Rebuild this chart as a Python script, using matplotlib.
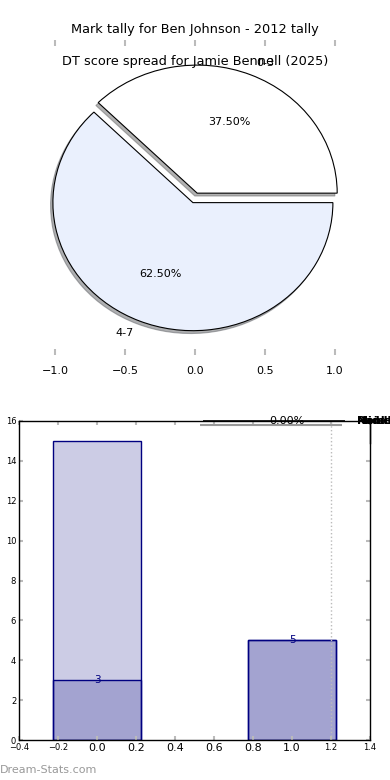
import matplotlib
matplotlib.use("Agg")
import matplotlib.pyplot as plt

# pie data
pie_labels = ["0-3", "4-7"]
pie_values = [3, 5]
pie_colors = ["white", "#eaf0fd"]
pie_explode = [0.08, 0.0]

# bar data
bar_x = [0, 1]
bar_back = [15, 5]
bar_front = [3, 5]

# squashed leftovers at the top right of the bar panel
stub_pct = "0.00%"
stub_labels = ["Middle", "Rankle", "Noise"]

fig = plt.figure(figsize=(3.9, 7.8), dpi=100)

fig.text(0.5, 1 - 30 / 780, "Mark tally for Ben Johnson - 2012 tally",
         ha="center", va="center", fontsize=9.3)

# --- pie panel ---
ax1 = fig.add_axes([20 / 390, 1 - 355 / 780, 350 / 390, 315 / 780])
ax1.pie(pie_values, labels=pie_labels, explode=pie_explode, colors=pie_colors,
        autopct="%.2f%%", startangle=0, frame=True, center=(-0.015, 0),
        shadow={"ox": -0.012, "oy": -0.016, "shade": 0.6},
        wedgeprops=dict(edgecolor="black", linewidth=0.8),
        textprops=dict(fontsize=8))
ax1.set_aspect("auto")
ax1.set_xlim(-1.25, 1.25)
ax1.set_ylim(-1.19, 1.27)
for s in ax1.spines.values():
    s.set_visible(False)
ax1.set_xticks([-1.0, -0.5, 0.0, 0.5, 1.0])
ax1.set_yticks([])
ax1.tick_params(axis="x", top=True, bottom=True, direction="in", color="#bbbbbb",
                labelsize=8, length=4, width=1.5, pad=8)

fig.text(0.5, 1 - 61 / 780, "DT score spread for Jamie Bennell (2025)",
         ha="center", va="center", fontsize=9.3)

# --- bar panel ---
ax2 = fig.add_axes([19 / 390, 1 - 740 / 780, 351 / 390, 319 / 780])
ax2.bar(bar_x, bar_back, width=0.45, facecolor=(0, 0, 0.5, 0.2), edgecolor="navy", linewidth=1)
ax2.bar(bar_x, bar_front, width=0.45, facecolor=(0, 0, 0.5, 0.2), edgecolor="navy", linewidth=1)
for x, v in zip(bar_x, bar_front):
    ax2.text(x, v, str(v), ha="center", va="center", color="navy", fontsize=7.5)
ax2.axvline(1.2, color="#bbbbbb", linestyle=":", linewidth=1)
ax2.set_xlim(-0.4, 1.4)
ax2.set_ylim(0, 16)
xt = [-0.4, -0.2, 0.0, 0.2, 0.4, 0.6, 0.8, 1.0, 1.2, 1.4]
ax2.set_xticks(xt)
ax2.set_xticklabels([f"{v:.1f}".replace("-", "\u2212") for v in xt])
for v, lab in zip(xt, ax2.get_xticklabels()):
    lab.set_fontsize(8 if 0 <= v <= 1.0 else 6)
ax2.set_yticks(range(0, 17, 2))
ax2.tick_params(axis="y", labelsize=6)
ax2.tick_params(top=True, right=True, direction="in", color="#bbbbbb", length=3, width=1.5, pad=2)
for s in ax2.spines.values():
    s.set_color("black")
    s.set_linewidth(1)

# flattened stub at the top edge
ax3 = fig.add_axes([195 / 390, 1 - 427 / 780, 150 / 390, 8 / 780])
ax3.set_xlim(0, 150)
ax3.set_ylim(0, 8)
ax3.axis("off")
ax3.plot([5, 147], [2, 2], color="#999999", linewidth=1.5, solid_capstyle="butt")
ax3.plot([8, 150], [6, 6], color="black", linewidth=1.2, solid_capstyle="butt")
ax3.text(92, 6, stub_pct, ha="center", va="center", fontsize=8, clip_on=False)
for lab in stub_labels:
    ax3.text(162, 6, lab, ha="left", va="center", fontsize=8, fontweight="bold", clip_on=False)
ax3.plot([175, 175], [6, -16], color="black", linewidth=1, clip_on=False)

fig.text(0.0, 1 - 770 / 780, "Dream-Stats.com", ha="left", va="center",
         fontsize=8, color="#999999")

fig.savefig("out.png", dpi=100)
